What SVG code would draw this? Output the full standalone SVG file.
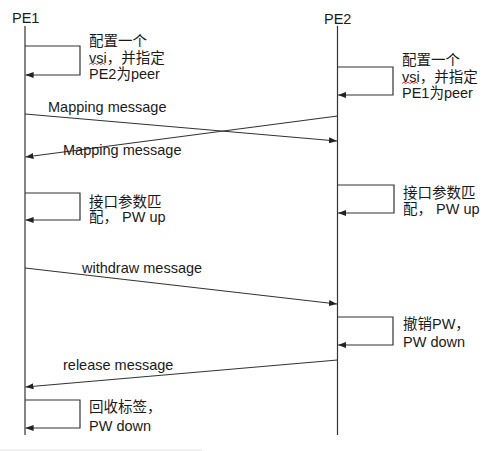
<svg xmlns="http://www.w3.org/2000/svg" width="487" height="451" viewBox="0 0 487 451">
<style>
text{font-family:"Liberation Sans","Noto Sans CJK SC",sans-serif;font-size:14.5px;fill:#1a1a1a}
.life{stroke:#333;stroke-width:1.2;fill:none}
.msg{stroke:#333;stroke-width:1.2;fill:none;marker-end:url(#ah)}
.sq{stroke:#e02020;stroke-width:0.9;fill:none}
</style>
<defs>
<marker id="ah" viewBox="0 0 8 6" refX="8" refY="3" markerWidth="8" markerHeight="6" markerUnits="userSpaceOnUse" orient="auto">
<path d="M0,0 L8,3 L0,6 Z" fill="#222"/>
</marker>
</defs>
<rect width="487" height="451" fill="#fff"/>
<g id="PE1">
<text x="12" y="23">PE1</text>
<line class="life" x1="25" y1="26" x2="25" y2="435"/>
</g>
<g id="PE2">
<text x="324" y="24">PE2</text>
<line class="life" x1="337.5" y1="26" x2="337.5" y2="435"/>
</g>
<g id="connectors">
<path class="msg" d="M25,46 H80 V75 H25.6"/>
<path class="msg" d="M337.5,67 H393 V95 H338.1"/>
<path class="msg" d="M25,114 L337,141"/>
<path class="msg" d="M337.5,116 L25.5,157"/>
<path class="msg" d="M25,193 H80 V220 H25.6"/>
<path class="msg" d="M337.5,185 H394 V213 H338.1"/>
<path class="msg" d="M25,268 L337,304"/>
<path class="msg" d="M337.5,317 H393 V345 H338.1"/>
<path class="msg" d="M337.5,360 L25.5,387"/>
<path class="msg" d="M25,400 H80 V428 H25.6"/>
</g>
<g id="label-pe1-config">
<text x="89" y="46">配置一个</text>
<text x="89" y="62.5">vsi，并指定</text>
<text x="89" y="79">PE2为peer</text>
<path class="sq" d="M89,64.5 l2,-1.5 l2,1.5 l2,-1.5 l2,1.5 l2,-1.5 l2,1.5 l2,-1.5 l2,1.5"/>
</g>
<g id="label-pe2-config">
<text x="402" y="65">配置一个</text>
<text x="402" y="81.5">vsi，并指定</text>
<text x="402" y="98">PE1为peer</text>
<path class="sq" d="M402,83.5 l2,-1.5 l2,1.5 l2,-1.5 l2,1.5 l2,-1.5 l2,1.5 l2,-1.5 l2,1.5"/>
</g>
<g id="label-mapping1"><text x="48" y="112">Mapping message</text></g>
<g id="label-mapping2"><text x="63" y="155">Mapping message</text></g>
<g id="label-pe1-match">
<text x="89" y="206.5">接口参数匹</text>
<text x="89" y="222">配， PW up</text>
</g>
<g id="label-pe2-match">
<text x="403" y="198">接口参数匹</text>
<text x="403" y="214">配， PW up</text>
</g>
<g id="label-withdraw"><text x="82" y="273">withdraw message</text></g>
<g id="label-pe2-cancel">
<text x="403" y="329">撤销PW，</text>
<text x="403" y="347">PW down</text>
</g>
<g id="label-release"><text x="63" y="370">release message</text></g>
<g id="label-pe1-reclaim">
<text x="89" y="412">回收标签，</text>
<text x="89" y="431">PW down</text>
</g>
<line x1="0" y1="450" x2="202" y2="450" stroke="#e4e4e4" stroke-width="1"/>
</svg>
